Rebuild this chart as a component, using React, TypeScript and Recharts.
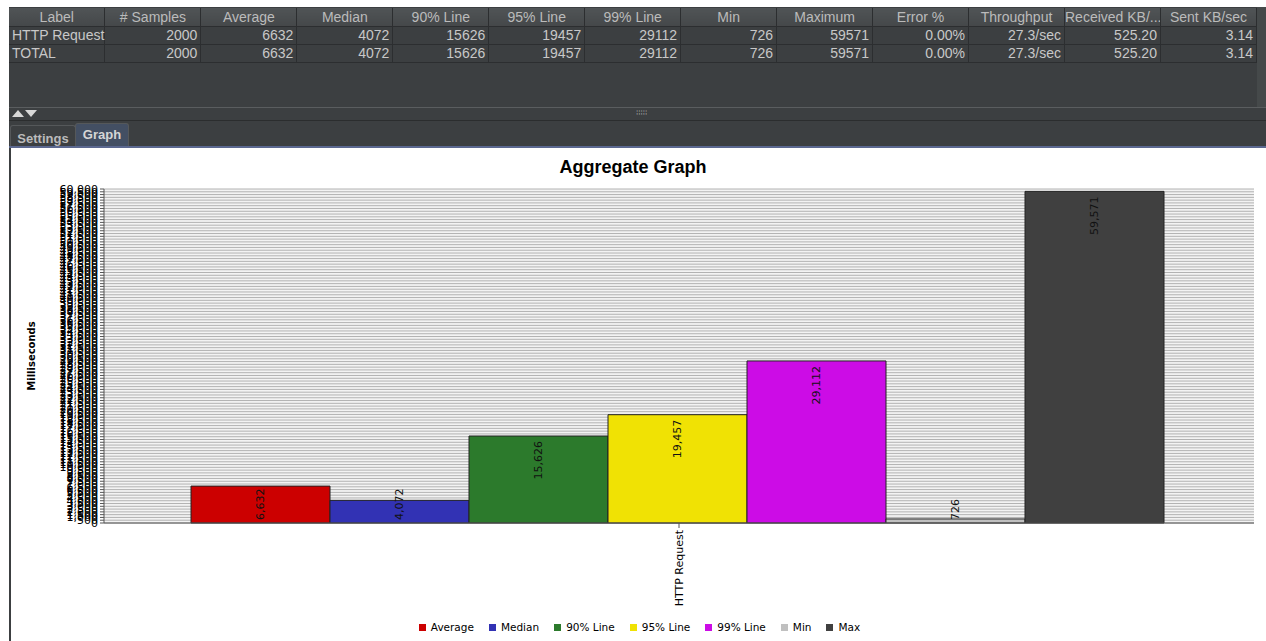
import React from "react";
import {
  BarChart,
  Bar,
  XAxis,
  YAxis,
  CartesianGrid,
  Legend,
  LabelList,
} from "recharts";

// summary table shown above the graph
const tableHeaders = [
  "Label",
  "# Samples",
  "Average",
  "Median",
  "90% Line",
  "95% Line",
  "99% Line",
  "Min",
  "Maximum",
  "Error %",
  "Throughput",
  "Received KB/...",
  "Sent KB/sec",
];
const tableRows = [
  ["HTTP Request", "2000", "6632", "4072", "15626", "19457", "29112", "726", "59571", "0.00%", "27.3/sec", "525.20", "3.14"],
  ["TOTAL", "2000", "6632", "4072", "15626", "19457", "29112", "726", "59571", "0.00%", "27.3/sec", "525.20", "3.14"],
];

// graph data
const categories = ["HTTP Request"];
const seriesNames = ["Average", "Median", "90% Line", "95% Line", "99% Line", "Min", "Max"];
const seriesValues = [6632, 4072, 15626, 19457, 29112, 726, 59571];
const seriesColors = ["#cc0000", "#3232b4", "#2c7a2c", "#f0e204", "#cc0ce6", "#c0c0c0", "#404040"];
const yMax = 60000;
const yTickStep = 500;

const yTicks: number[] = [];
for (let v = 0; v <= yMax; v += yTickStep) yTicks.push(v);

const chartData = categories.map((name) => {
  const row: Record<string, string | number> = { name };
  seriesNames.forEach((s, i) => {
    row[s] = seriesValues[i];
  });
  return row;
});

const fmt = (v: number) => Number(v).toLocaleString("en-US");

const BarValueLabel = (props: any) => {
  const { x, y, width, height, value } = props;
  const cx = Number(x) + Number(width) / 2;
  const text = fmt(value);
  const inside = Number(height) > text.length * 6.5 + 10;
  const ty = inside ? Number(y) + 5 : Number(y) + Number(height) - 3;
  return (
    <text
      x={cx}
      y={ty}
      transform={`rotate(-90 ${cx} ${ty})`}
      textAnchor={inside ? "end" : "start"}
      dominantBaseline="central"
      fontSize={11}
      fontFamily="DejaVu Sans"
      fill="#111"
    >
      {text}
    </text>
  );
};

const CategoryTick = (props: any) => {
  const { x, y, payload } = props;
  return (
    <text
      x={x}
      y={y}
      transform={`rotate(-90 ${x} ${y})`}
      textAnchor="end"
      dominantBaseline="central"
      fontSize={11}
      fontFamily="DejaVu Sans"
      fill="#000"
    >
      {payload.value}
    </text>
  );
};

const AxisTitle = (props: any) => {
  const vb = props.viewBox || {};
  const x = vb.x + 20;
  const y = vb.y + vb.height / 2;
  return (
    <text
      x={x}
      y={y}
      transform={`rotate(-90 ${x} ${y})`}
      textAnchor="middle"
      dominantBaseline="central"
      fontSize={10}
      fontWeight="bold"
      fontFamily="DejaVu Sans"
      fill="#000"
    >
      Milliseconds
    </text>
  );
};

const renderLegend = (props: any) => {
  const items = [...(props.payload || [])].sort(
    (a: any, b: any) => seriesNames.indexOf(a.value) - seriesNames.indexOf(b.value)
  );
  return (
    <div
      style={{
        display: "flex",
        justifyContent: "center",
        fontFamily: "DejaVu Sans",
        fontSize: 10.5,
        lineHeight: "16px",
        color: "#000",
        paddingLeft: 14,
      }}
    >
      {items.map((p: any, i: number) => (
        <span
          key={p.value}
          style={{ display: "flex", alignItems: "center", marginLeft: i === 0 ? 0 : 15 }}
        >
          <span style={{ width: 7, height: 7, background: p.color, marginRight: 5 }} />
          {p.value}
        </span>
      ))}
    </div>
  );
};

const headStyle: React.CSSProperties = {
  background: "linear-gradient(#505456, #45484a)",
  color: "#bbbbbb",
  textAlign: "center",
  borderRight: "1px solid #2c2e30",
  borderBottom: "1px solid #2c2e30",
  height: 18,
  lineHeight: "18px",
  padding: 0,
  overflow: "hidden",
  whiteSpace: "nowrap",
};
const cellStyle: React.CSSProperties = {
  color: "#c8c8c8",
  borderRight: "1px solid #2c2e30",
  borderBottom: "1px solid #2c2e30",
  height: 17,
  lineHeight: "17px",
  padding: "0 3px",
  whiteSpace: "nowrap",
};

const tri = (up: boolean): React.CSSProperties => ({
  display: "inline-block",
  width: 0,
  height: 0,
  borderLeft: "6px solid transparent",
  borderRight: "6px solid transparent",
  [up ? "borderBottom" : "borderTop"]: "7px solid #d8d8d8",
  marginRight: 1,
});

export default function App() {
  return (
    <div
      style={{
        position: "fixed",
        left: 0,
        top: 0,
        width: 1266,
        height: 641,
        overflow: "hidden",
        background: "#fff",
        fontFamily: "'Liberation Sans', Arial, sans-serif",
      }}
    >
      {/* dark top panel */}
      <div style={{ position: "absolute", left: 9, top: 7, width: 1257, height: 141, background: "#3c3f41" }} />
      <div style={{ position: "absolute", left: 1257, top: 7, width: 9, height: 100, background: "#45494a" }} />
      <table
        style={{
          position: "absolute",
          left: 9,
          top: 8,
          width: 1248,
          borderCollapse: "collapse",
          tableLayout: "fixed",
          fontSize: 14,
        }}
      >
        <thead>
          <tr>
            {tableHeaders.map((h) => (
              <th key={h} style={{ ...headStyle, fontWeight: "normal" }}>
                {h}
              </th>
            ))}
          </tr>
        </thead>
        <tbody>
          {tableRows.map((r, ri) => (
            <tr key={ri}>
              {r.map((c, ci) => (
                <td key={ci} style={{ ...cellStyle, textAlign: ci === 0 ? "left" : "right" }}>
                  {c}
                </td>
              ))}
            </tr>
          ))}
        </tbody>
      </table>
      {/* splitter */}
      <div
        style={{
          position: "absolute",
          left: 9,
          top: 107,
          width: 1257,
          height: 12,
          borderTop: "1px solid #5a5d5f",
          borderBottom: "1px solid #2b2d2e",
          background: "#3c3f41",
        }}
      >
        <span style={{ position: "absolute", left: 3, top: 2, display: "flex" }}>
          <span style={tri(true)} />
          <span style={tri(false)} />
        </span>
        <span style={{ position: "absolute", left: 627, top: 0, fontSize: 8, color: "#9a9a9a" }}>⁞⁞⁞⁞⁞</span>
      </div>
      {/* tabs */}
      <div
        style={{
          position: "absolute",
          left: 10,
          top: 125,
          width: 64,
          height: 21,
          border: "1px solid #55585a",
          borderBottom: "none",
          borderRadius: "3px 3px 0 0",
          color: "#bbbbbb",
          fontWeight: "bold",
          fontSize: 13,
          lineHeight: "25px",
          textAlign: "center",
        }}
      >
        Settings
      </div>
      <div
        style={{
          position: "absolute",
          left: 75,
          top: 123,
          width: 52,
          height: 23,
          background: "#434f63",
          border: "1px solid #55585a",
          borderBottom: "none",
          borderRadius: "3px 3px 0 0",
          color: "#d6d6d6",
          fontWeight: "bold",
          fontSize: 13,
          lineHeight: "22px",
          textAlign: "center",
        }}
      >
        Graph
      </div>
      <div style={{ position: "absolute", left: 9, top: 146, width: 1257, height: 2, background: "#5b6890" }} />
      {/* graph panel */}
      <div style={{ position: "absolute", left: 9, top: 148, width: 2, height: 493, background: "#3c3f41" }} />
      <div
        style={{
          position: "absolute",
          left: 11,
          top: 156,
          width: 1244,
          textAlign: "center",
          fontSize: 18,
          fontWeight: "bold",
          lineHeight: "22px",
          color: "#000",
        }}
      >
        Aggregate Graph
      </div>
      <div style={{ position: "absolute", left: 11, top: 148 }}>
        <BarChart
          width={1255}
          height={493}
          data={chartData}
          margin={{ top: 41, right: 12, left: 0, bottom: 6 }}
          barCategoryGap={87}
          barGap={0}
        >
          <CartesianGrid horizontal vertical={false} stroke="#b2b2b2" fill="#f3f3f3" />
          <XAxis
            dataKey="name"
            height={96}
            tickSize={5}
            tickMargin={2}
            axisLine={{ stroke: "#555" }}
            tickLine={{ stroke: "#555" }}
            tick={<CategoryTick />}
          />
          <XAxis
            xAxisId="top"
            orientation="top"
            dataKey="name"
            height={0}
            tick={false}
            tickLine={false}
            axisLine={{ stroke: "#555" }}
          />
          <YAxis
            width={93}
            domain={[0, yMax]}
            ticks={yTicks}
            interval={0}
            tickSize={4}
            tickMargin={2}
            tickFormatter={fmt}
            tick={{ fontSize: 11, fontFamily: "DejaVu Sans", fill: "#000" }}
            axisLine={{ stroke: "#555" }}
            tickLine={{ stroke: "#555" }}
            label={<AxisTitle />}
          />
          <YAxis
            yAxisId="right"
            orientation="right"
            width={0}
            domain={[0, yMax]}
            tick={false}
            tickLine={false}
            axisLine={{ stroke: "#555" }}
          />
          <Legend verticalAlign="bottom" content={renderLegend} />
          {seriesNames.map((s, i) => (
            <Bar
              key={s}
              dataKey={s}
              fill={seriesColors[i]}
              stroke="#222"
              strokeWidth={1}
              isAnimationActive={false}
            >
              <LabelList dataKey={s} content={<BarValueLabel />} />
            </Bar>
          ))}
        </BarChart>
      </div>
    </div>
  );
}
